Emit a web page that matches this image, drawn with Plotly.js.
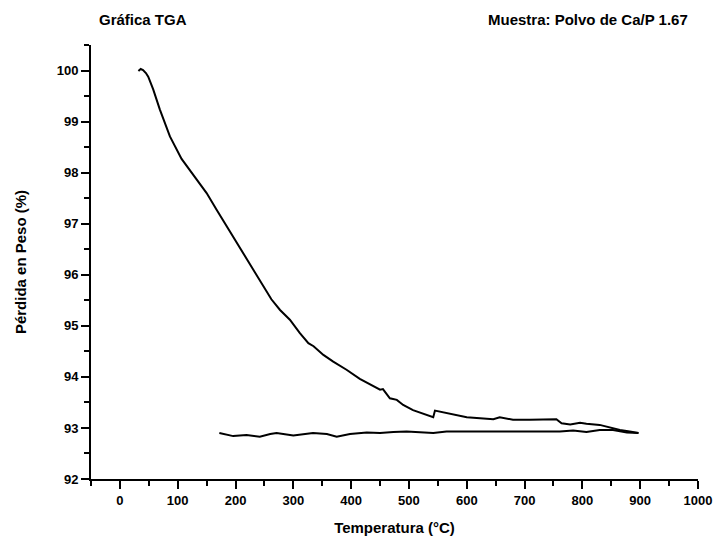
<!DOCTYPE html>
<html>
<head>
<meta charset="utf-8">
<script src="https://cdn.plot.ly/plotly-3.0.1.min.js"></script>
<style>html,body{margin:0;padding:0;background:#fff;}#chart{width:717px;height:540px;}</style>
</head>
<body>
<div id="chart"></div>
<script>
// Heating segment (temperature °C, weight %)
const tempHeat = [32, 36, 40, 45, 49, 57.6, 69, 86.5, 106.7, 126.8, 150, 167, 185, 202, 219, 231, 248, 262, 277, 294, 311, 326, 335, 352, 369, 392, 415, 440, 450, 455, 467, 479, 490, 507, 525, 542, 545, 565, 582, 600, 623, 646, 657, 680, 709, 738, 755, 764, 779, 796, 807, 830, 848, 865, 882, 897];
const weightHeat = [99.99, 100.03, 100.01, 99.95, 99.88, 99.63, 99.24, 98.71, 98.27, 97.95, 97.60, 97.28, 96.95, 96.62, 96.30, 96.10, 95.77, 95.52, 95.31, 95.12, 94.86, 94.66, 94.60, 94.43, 94.30, 94.14, 93.96, 93.80, 93.75, 93.76, 93.58, 93.55, 93.45, 93.35, 93.27, 93.21, 93.34, 93.29, 93.24, 93.21, 93.19, 93.17, 93.21, 93.16, 93.16, 93.16, 93.17, 93.09, 93.07, 93.10, 93.08, 93.06, 93.01, 92.96, 92.93, 92.90];
// Cooling segment
const tempCool = [897, 877, 853, 830, 807, 784, 761, 738, 710, 680, 650, 623, 595, 565, 542, 507, 496, 473, 450, 427, 398, 375, 358, 334, 300, 271, 260, 242, 219, 196, 172];
const weightCool = [92.90, 92.91, 92.96, 92.96, 92.92, 92.95, 92.93, 92.93, 92.94, 92.94, 92.93, 92.93, 92.94, 92.93, 92.90, 92.93, 92.93, 92.92, 92.90, 92.91, 92.88, 92.83, 92.88, 92.90, 92.85, 92.90, 92.88, 92.83, 92.86, 92.84, 92.90];

const xTicks = [0, 100, 200, 300, 400, 500, 600, 700, 800, 900, 1000];
const yTicks = [92, 93, 94, 95, 96, 97, 98, 99, 100];

const FONT = "'Liberation Sans', Arial, Helvetica, sans-serif";
const line = {color: '#000', width: 2};

const traces = [
  {x: tempHeat, y: weightHeat, mode: 'lines', line: line, hoverinfo: 'skip', showlegend: false},
  {x: tempCool, y: weightCool, mode: 'lines', line: line, hoverinfo: 'skip', showlegend: false}
];

const layout = {
  width: 717, height: 540,
  paper_bgcolor: '#fff', plot_bgcolor: '#fff',
  margin: {l: 91, r: 19, t: 45, b: 61, pad: 0},
  font: {family: FONT, color: '#000', size: 13},
  showlegend: false,
  xaxis: {
    range: [-50, 1000], tickmode: 'array', tickvals: xTicks,
    ticktext: xTicks.map(String),
    showgrid: false, zeroline: false, showline: true, linecolor: '#000', linewidth: 2,
    ticks: 'outside', ticklen: 8, tickwidth: 2, tickcolor: '#000',
    minor: {ticks: 'outside', ticklen: 5, tickwidth: 2, tickcolor: '#000', dtick: 50, tick0: 0, showgrid: false},
    tickfont: {family: FONT, size: 13, weight: 'bold'},
    title: {text: '<b>Temperatura (°C)</b>', font: {family: FONT, size: 15}, standoff: 16}
  },
  yaxis: {
    range: [92, 100.5], tickmode: 'array', tickvals: yTicks,
    ticktext: yTicks.map(String),
    showgrid: false, zeroline: false, showline: true, linecolor: '#000', linewidth: 2,
    ticks: 'outside', ticklen: 8, tickwidth: 2, tickcolor: '#000',
    minor: {ticks: 'outside', ticklen: 5, tickwidth: 2, tickcolor: '#000', dtick: 0.5, tick0: 92, showgrid: false},
    tickfont: {family: FONT, size: 13, weight: 'bold'},
    title: {text: '<b>Pérdida en Peso (%)</b>', font: {family: FONT, size: 15}, standoff: 26}
  },
  annotations: [
    {xref: 'paper', yref: 'paper', x: 0.01, y: 1.059, xanchor: 'left', yanchor: 'middle', showarrow: false,
     text: '<b>Gráfica TGA</b>', font: {family: FONT, size: 15, color: '#000'}},
    {xref: 'paper', yref: 'paper', x: 0.987, y: 1.059, xanchor: 'right', yanchor: 'middle', showarrow: false,
     text: '<b>Muestra: Polvo de Ca/P 1.67</b>', font: {family: FONT, size: 15, color: '#000'}}
  ]
};

Plotly.newPlot('chart', traces, layout, {displayModeBar: false, staticPlot: true});
</script>
</body>
</html>
